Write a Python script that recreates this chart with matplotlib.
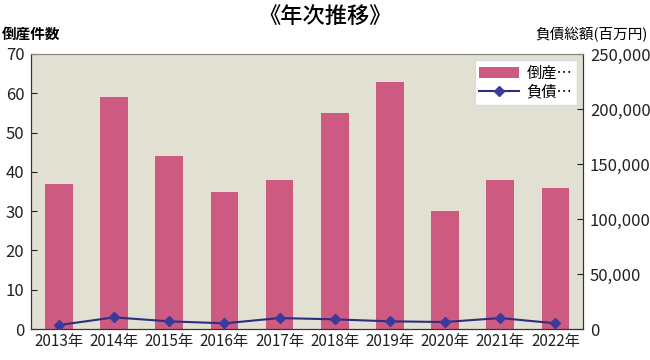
import matplotlib
matplotlib.use("Agg")
import matplotlib.pyplot as plt
import numpy as np

plt.rcParams['font.family'] = ['Noto Sans CJK JP', 'DejaVu Sans']

# data
years = ['2013年', '2014年', '2015年', '2016年', '2017年',
         '2018年', '2019年', '2020年', '2021年', '2022年']
counts = [37, 59, 44, 35, 38, 55, 63, 30, 38, 36]
debts = [3600, 10600, 7000, 5200, 10000, 8800, 7000, 6400, 10000, 5200]

fig = plt.figure(figsize=(6.5, 3.6), dpi=100)
ax = fig.add_axes([0.048, 0.086, 0.849, 0.764])
ax.set_facecolor('#E2DFD3')

x = np.arange(len(years))
bars = ax.bar(x, counts, width=0.5, color='#CD5A80', zorder=2)
ax.set_xlim(-0.5, len(years) - 0.5)
ax.set_ylim(0, 70)
ax.set_yticks(range(0, 71, 10))
ax.set_xticks(x)
ax.set_xticklabels(years)
ax.tick_params(axis='x', length=0, labelsize=11, pad=3, colors='#222222')
ax.tick_params(axis='y', direction='in', length=4, labelsize=12, pad=5, colors='#222222')

ax2 = ax.twinx()
line, = ax2.plot(x, debts, color='#2D2F7E', lw=1.5, marker='D', markersize=5,
                 markerfacecolor='#3A3A9C', markeredgecolor='#3A3A9C', zorder=3)
ax2.set_ylim(0, 250000)
ax2.set_yticks(range(0, 250001, 50000))
ax2.set_yticklabels([f'{v:,}' for v in range(0, 250001, 50000)])
ax2.tick_params(axis='y', direction='in', length=4, labelsize=12, pad=5, colors='#222222')

for a in (ax, ax2):
    for s in ('left', 'bottom', 'right'):
        a.spines[s].set_color('#333333')
    a.spines['top'].set_color('#888888')

leg = ax2.legend([bars, line], ['倒産…', '負債…'], loc='upper right', fontsize=11,
                 frameon=True, fancybox=False, framealpha=1, edgecolor='#DDDDDD',
                 handlelength=2.6, borderpad=0.3, labelspacing=0.1,
                 borderaxespad=0.4, handletextpad=0.5)

fig.text(0.5, 0.955, '《年次推移》', ha='center', va='center', fontsize=16, fontweight='medium')
fig.text(0.003, 0.905, '倒産件数', ha='left', va='center', fontsize=10.5, fontweight='bold')
fig.text(0.997, 0.905, '負債総額(百万円)', ha='right', va='center', fontsize=10.5)

fig.savefig('out.png', dpi=100)
